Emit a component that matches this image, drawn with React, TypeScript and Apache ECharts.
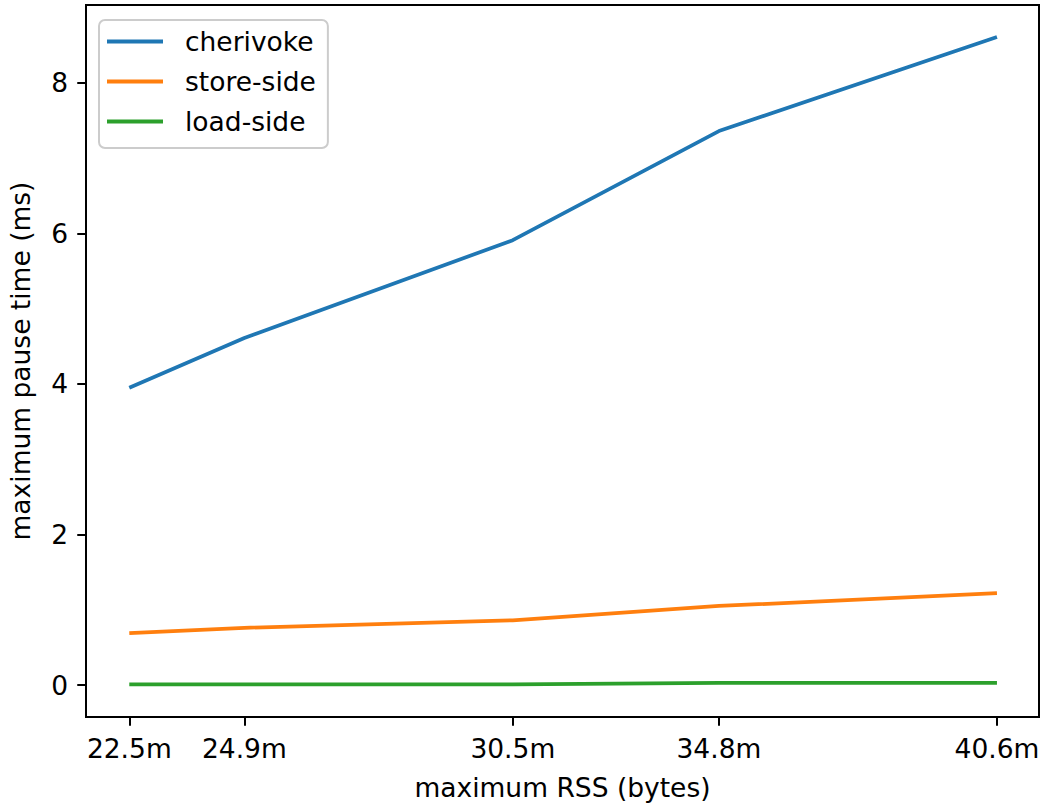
import React, { useEffect, useRef } from "react";
import * as echarts from "echarts";

const rss = [22.5, 24.9, 30.5, 34.8, 40.6];
const xTickLabels = ["22.5m", "24.9m", "30.5m", "34.8m", "40.6m"];
const yTicks = [0, 2, 4, 6, 8];
const cherivoke = [3.95, 4.61, 5.91, 7.36, 8.61];
const storeSide = [0.69, 0.76, 0.86, 1.05, 1.22];
const loadSide = [0.01, 0.01, 0.01, 0.03, 0.03];
const seriesNames = ["cherivoke", "store-side", "load-side"];
const seriesColors = ["#1f77b4", "#ff7f0e", "#2ca02c"];

const FONT = "DejaVu Sans";
const FS = 26.5;

export default function App() {
  const ref = useRef<HTMLDivElement>(null);
  useEffect(() => {
    if (!ref.current) return;
    const chart = echarts.init(ref.current, undefined, { renderer: "svg" });
    const values = [cherivoke, storeSide, loadSide];
    chart.setOption({
      animation: false,
      backgroundColor: "#ffffff",
      textStyle: { fontFamily: FONT },
      grid: {
        left: 86,
        right: 2,
        top: 5,
        bottom: 86,
        outerBoundsMode: "none",
        containLabel: false,
        show: true,
        borderColor: "#000",
        borderWidth: 2,
        backgroundColor: "transparent",
      },
      legend: {
        orient: "vertical",
        left: 99,
        top: 20,
        padding: [6, 12, 11, 8],
        itemWidth: 56,
        itemHeight: 4,
        itemGap: 9,
        icon: "rect",
        backgroundColor: "rgba(255,255,255,0.8)",
        borderColor: "#cccccc",
        borderWidth: 2,
        borderRadius: 6,
        textStyle: {
          fontFamily: FONT,
          fontSize: FS,
          color: "#000",
          lineHeight: 31,
          padding: [0, 0, 0, 17],
        },
        data: seriesNames,
      },
      xAxis: {
        type: "value",
        min: 21.597,
        max: 41.477,
        name: "maximum RSS (bytes)",
        nameLocation: "middle",
        nameGap: 57,
        nameTextStyle: { fontFamily: FONT, fontSize: FS, color: "#000" },
        axisLine: { show: true, onZero: false, lineStyle: { color: "#000", width: 2 } },
        axisTick: {
          show: true,
          customValues: rss,
          length: 8.75,
          lineStyle: { color: "#000", width: 2 },
        },
        axisLabel: {
          customValues: rss,
          formatter: (v: number) => {
            const i = rss.indexOf(v);
            return i >= 0 ? xTickLabels[i] : "";
          },
          fontFamily: FONT,
          fontSize: FS,
          color: "#000",
          margin: 18,
        },
        splitLine: { show: false },
      },
      yAxis: {
        type: "value",
        min: -0.425,
        max: 9.035,
        name: "maximum pause time (ms)",
        nameLocation: "middle",
        nameGap: 52,
        nameTextStyle: { fontFamily: FONT, fontSize: FS, color: "#000" },
        axisLine: { show: true, onZero: false, lineStyle: { color: "#000", width: 2 } },
        axisTick: {
          show: true,
          customValues: yTicks,
          length: 8.75,
          lineStyle: { color: "#000", width: 2 },
        },
        axisLabel: {
          customValues: yTicks,
          fontFamily: FONT,
          fontSize: FS,
          color: "#000",
          margin: 18,
        },
        splitLine: { show: false },
      },
      series: seriesNames.map((name, i) => ({
        name,
        type: "line",
        symbol: "none",
        color: seriesColors[i],
        lineStyle: { color: seriesColors[i], width: 3.75 },
        data: rss.map((x, j) => [x, values[i][j]]),
      })),
    });
    return () => chart.dispose();
  }, []);
  return (
    <div
      ref={ref}
      style={{ position: "fixed", left: 0, top: 0, width: 1041, height: 803 }}
    />
  );
}
